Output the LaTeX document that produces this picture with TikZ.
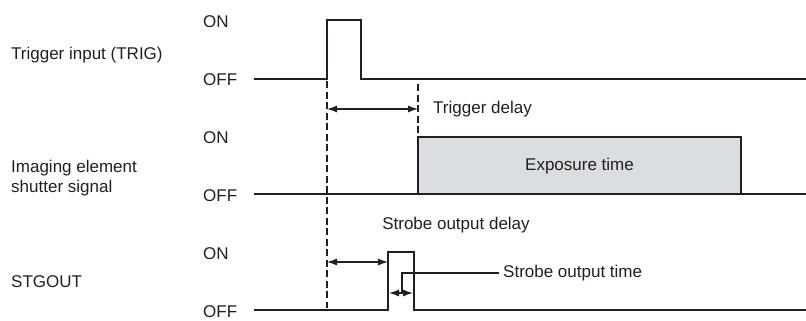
\documentclass[tikz,border=0pt]{standalone}
\usepackage{fontspec}
\setmainfont{Liberation Sans}
\usetikzlibrary{arrows.meta}
\definecolor{ink}{HTML}{231F20}
\definecolor{boxgray}{HTML}{DCDDDE}
\tikzset{
  lbl/.style={inner sep=0pt, text=ink, font=\fontsize{17}{20}\selectfont},
  sig/.style={draw=ink, line width=2pt, line join=miter},
  guide/.style={draw=ink, line width=1.4pt, dash pattern=on 7pt off 3.5pt},
  dim/.style={draw=ink, line width=1.2pt, {Latex[length=10pt,width=7pt]}-{Latex[length=10pt,width=7pt]}},
  leader/.style={draw=ink, line width=1.2pt}
}
\begin{document}
\begin{tikzpicture}[x=1pt,y=-1pt]
\useasboundingbox (0,0) rectangle (806,321);
% signal names
\node[lbl,anchor=west] (ntrig) at (11,55) {Trigger input (TRIG)};
\node[lbl,anchor=west,align=left] (nshut) at (11,178) {Imaging element\\shutter signal};
\node[lbl,anchor=west] (nstg) at (11,282) {STGOUT};
% ON / OFF
\node[lbl,anchor=west] (on1) at (203,22) {ON};
\node[lbl,anchor=west] (off1) at (203,80) {OFF};
\node[lbl,anchor=west] (on2) at (203,138) {ON};
\node[lbl,anchor=west] (off2) at (203,196) {OFF};
\node[lbl,anchor=west] (on3) at (203,254) {ON};
\node[lbl,anchor=west] (off3) at (203,312) {OFF};
% exposure box
\draw[sig, fill=boxgray] (418,137) rectangle (741,194);
\node[lbl] (exp) at (579.5,166) {Exposure time};
% signals
\draw[sig] (254,79) -- (327,79) -- (327,20) -- (361,20) -- (361,79) -- (806,79);
\draw[sig] (254,194) -- (806,194);
\draw[sig] (254,310) -- (388,310) -- (388,252) -- (414,252) -- (414,310) -- (806,310);
% guides
\coordinate (g1top) at (327,81);
\coordinate (g1bot) at (327,308);
\coordinate (g2top) at (418,84);
\coordinate (g2bot) at (418,136);
\draw[guide] (g1top) -- (g1bot);
\draw[guide] (g2top) -- (g2bot);
% trigger delay
\coordinate (td1) at (327,109);
\coordinate (td2) at (418,109);
\draw[dim] (td1) -- (td2);
\node[lbl,anchor=west] (tdl) at (433,109) {Trigger delay};
% strobe output delay
\coordinate (sd1) at (327,262);
\coordinate (sd2) at (388,262);
\draw[dim] (sd1) -- (sd2);
\node[lbl] (sdl) at (456,225) {Strobe output delay};
% strobe output time
\coordinate (st1) at (389,293);
\coordinate (st2) at (413,293);
\draw[dim] (st1) -- (st2);
\coordinate (ldA) at (402,293);
\node[lbl,anchor=west] (stl) at (503,273) {Strobe output time};
\draw[leader] (ldA) -- (402,273) -- ([xshift=-4pt]stl.west);
\end{tikzpicture}
\end{document}
